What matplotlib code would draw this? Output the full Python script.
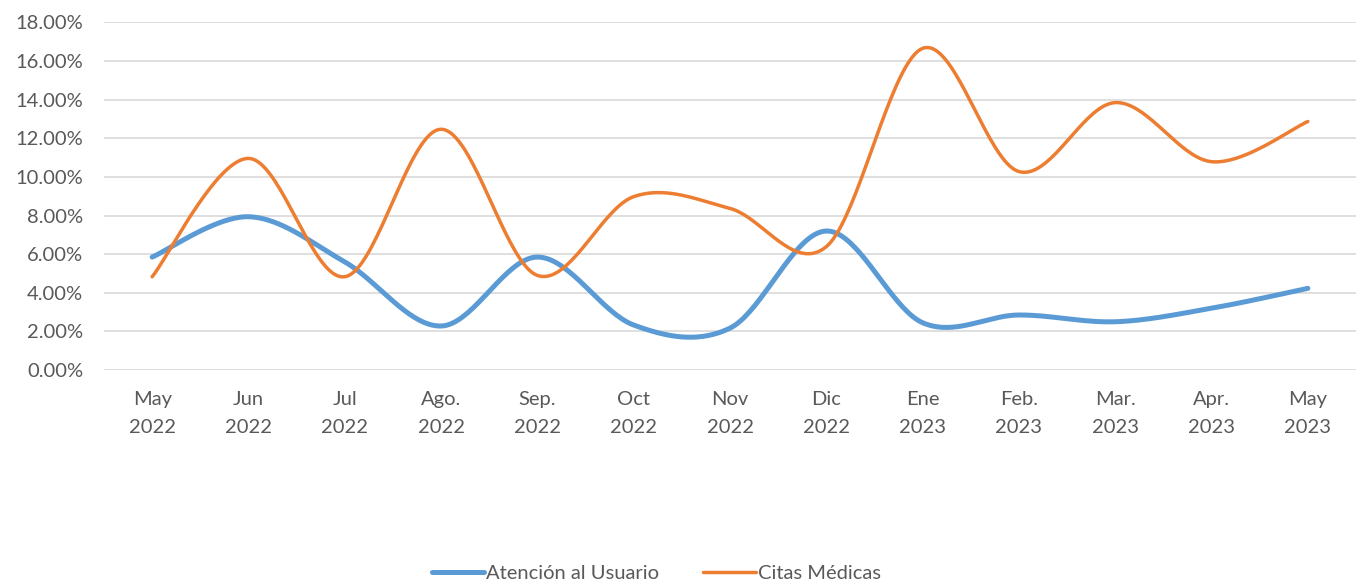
import numpy as np
import matplotlib.pyplot as plt
from matplotlib.ticker import FuncFormatter

months = ["May\n2022", "Jun\n2022", "Jul\n2022", "Ago.\n2022", "Sep.\n2022", "Oct\n2022", "Nov\n2022",
          "Dic\n2022", "Ene\n2023", "Feb.\n2023", "Mar.\n2023", "Apr.\n2023", "May\n2023"]
atencion = [5.85, 7.94, 5.6, 2.28, 5.85, 2.33, 2.17, 7.2, 2.45, 2.85, 2.5, 3.2, 4.23]
citas = [4.83, 10.96, 4.83, 12.47, 4.9, 8.98, 8.37, 6.39, 16.66, 10.28, 13.85, 10.79, 12.87]

plt.rcParams['font.family'] = ['Lato', 'DejaVu Sans']

def smooth(y, n=40):
    # Excel-like smoothed line: cubic bezier segments with Catmull-Rom control points
    y = np.asarray(y, dtype=float)
    x = np.arange(len(y), dtype=float)
    xs, ys = [], []
    for i in range(len(y) - 1):
        i0, i3 = max(i - 1, 0), min(i + 2, len(y) - 1)
        p0 = np.array([x[i], y[i]])
        p3 = np.array([x[i + 1], y[i + 1]])
        p1 = p0 + (np.array([x[i + 1], y[i + 1]]) - np.array([x[i0], y[i0]])) / 6
        p2 = p3 - (np.array([x[i3], y[i3]]) - np.array([x[i], y[i]])) / 6
        t = np.linspace(0, 1, n)[:, None]
        pts = (1 - t)**3 * p0 + 3 * (1 - t)**2 * t * p1 + 3 * (1 - t) * t**2 * p2 + t**3 * p3
        xs.extend(pts[:, 0]); ys.extend(pts[:, 1])
    return np.array(xs), np.array(ys)

fig = plt.figure(figsize=(13.56, 5.84), dpi=100)
ax = fig.add_axes([0.0767, 0.3664, 0.9233, 0.5951])

for vals, label, color, lw in [(atencion, "Atención al Usuario", "#5B9BD5", 3.6),
                               (citas, "Citas Médicas", "#ED7D31", 2.5)]:
    sx, sy = smooth(vals)
    ax.plot(sx, sy, color=color, lw=lw, label=label, solid_capstyle='round', zorder=3)

ax.set_xlim(-0.5, len(months) - 0.5)
ax.set_ylim(0, 18)
ax.set_yticks(np.arange(0, 19, 2))
ax.yaxis.set_major_formatter(FuncFormatter(lambda v, p: f"{v:.2f}%"))
ax.set_xticks(range(len(months)))
ax.set_xticklabels(months, linespacing=1.78)
ax.grid(axis='y', color='#D9D9D9', lw=1.2)
ax.tick_params(length=0, labelsize=14.5, colors='#595959')
ax.tick_params(axis='x', pad=15)
ax.tick_params(axis='y', pad=15)
for s in ax.spines.values():
    s.set_visible(False)

fig.legend(loc='lower center', bbox_to_anchor=(0.484, -0.028), ncol=2, frameon=False,
           fontsize=14.5, labelcolor='#595959', handlelength=2.6, handletextpad=0.1, columnspacing=2.2)

fig.savefig("out.png", dpi=100)
